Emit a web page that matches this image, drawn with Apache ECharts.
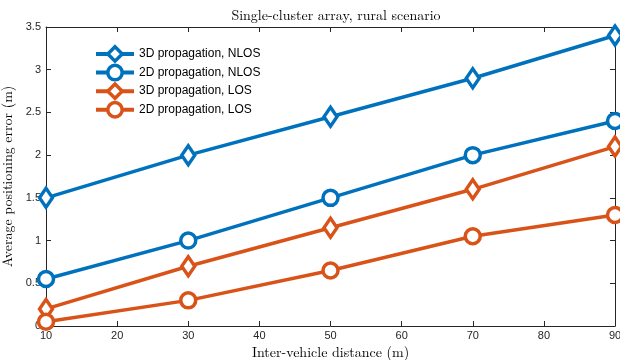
<!DOCTYPE html>
<html><head><meta charset="utf-8">
<script src="https://cdn.jsdelivr.net/npm/echarts@6/dist/echarts.min.js"></script>
<style>html,body{margin:0;padding:0;background:#fff}#c{width:620px;height:360px}</style>
</head><body><div id="c"></div>
<script>
var distances = [10, 30, 50, 70, 90];
var nlos3d = [1.5, 2.0, 2.45, 2.9, 3.4];
var nlos2d = [0.55, 1.0, 1.5, 2.0, 2.4];
var los3d = [0.2, 0.7, 1.15, 1.6, 2.1];
var los2d = [0.05, 0.3, 0.65, 1.05, 1.3];
var seriesNames = ['3D propagation, NLOS', '2D propagation, NLOS', '3D propagation, LOS', '2D propagation, LOS'];

function pairs(v){ return distances.map(function(d,i){ return [d, v[i]]; }); }
var BLUE = '#0072BD', ORANGE = '#D95319';
var serif = '"Latin Modern Roman","DejaVu Serif","Liberation Serif",serif';
var sans = '"Liberation Sans",Arial,sans-serif';

function mk(name, data, color, sym){
  return {
    name: name, type: 'line', data: pairs(data), clip: false,
    symbol: sym, symbolSize: sym === 'diamond' ? [13, 19] : 15,
    showAllSymbol: true,
    lineStyle: {color: color, width: 3.5},
    itemStyle: {color: '#fff', borderColor: color, borderWidth: 3.5},
    emphasis: {disabled: true}, animation: false, z: 3
  };
}

var axisLine = {show: true, onZero: false, lineStyle: {color: '#262626', width: 1}};
var chart = echarts.init(document.getElementById('c'));
chart.setOption({
  animation: false,
  backgroundColor: '#fff',
  title: {text: 'Single-cluster array, rural scenario', left: 331, top: 4, textAlign: 'center',
    textStyle: {fontFamily: serif, fontSize: 14, fontWeight: 'normal', color: '#000'}},
  grid: {left: 46, right: 5, top: 27, bottom: 34, outerBoundsMode: 'none', containLabel: false},
  legend: {
    left: 89, top: 40, orient: 'vertical', itemWidth: 38, itemHeight: 18, itemGap: 0.7,
    lineStyle: {width: 4}, itemStyle: {borderWidth: 3.5},
    textStyle: {fontFamily: sans, fontSize: 12, color: '#000'},
    data: seriesNames
  },
  xAxis: [{
    type: 'value', min: 10, max: 90, interval: 10,
    name: 'Inter-vehicle distance (m)', nameLocation: 'middle', nameGap: 17,
    nameTextStyle: {fontFamily: serif, fontSize: 14, color: '#000'},
    axisLine: axisLine, axisTick: {inside: true, length: 5, lineStyle: {color: '#262626'}},
    axisLabel: {fontFamily: sans, fontSize: 11, color: '#262626', margin: 4},
    splitLine: {show: false}
  }, {
    type: 'value', position: 'top', min: 10, max: 90, interval: 10,
    axisLine: axisLine, axisTick: {inside: true, length: 5, lineStyle: {color: '#262626'}},
    axisLabel: {show: false}, splitLine: {show: false}
  }],
  yAxis: [{
    type: 'value', min: 0, max: 3.5, interval: 0.5,
    name: 'Average positioning error (m)', nameLocation: 'middle', nameGap: 29,
    nameTextStyle: {fontFamily: serif, fontSize: 14, color: '#000'},
    axisLine: axisLine, axisTick: {inside: true, length: 5, lineStyle: {color: '#262626'}},
    axisLabel: {fontFamily: sans, fontSize: 11, color: '#262626', margin: 5},
    splitLine: {show: false}
  }, {
    type: 'value', position: 'right', min: 0, max: 3.5, interval: 0.5,
    axisLine: axisLine, axisTick: {inside: true, length: 5, lineStyle: {color: '#262626'}},
    axisLabel: {show: false}, splitLine: {show: false}
  }],
  series: [
    mk(seriesNames[0], nlos3d, BLUE, 'diamond'),
    mk(seriesNames[1], nlos2d, BLUE, 'circle'),
    mk(seriesNames[2], los3d, ORANGE, 'diamond'),
    mk(seriesNames[3], los2d, ORANGE, 'circle')
  ]
});
</script></body></html>
